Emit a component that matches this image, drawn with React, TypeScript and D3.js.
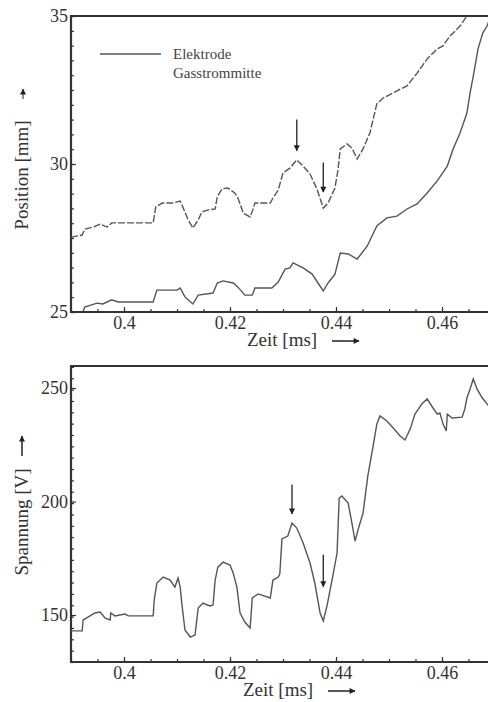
import React, { useEffect, useRef } from 'react'
import * as d3 from 'd3'

// Gasstrommitte (upper, dashed)
const gasTime = [0.39, 0.3921, 0.3926, 0.3942, 0.3955, 0.3968, 0.3977, 0.4055, 0.406, 0.4072, 0.4092, 0.4106, 0.4111, 0.4121, 0.413, 0.414, 0.4147, 0.4159, 0.4172, 0.4176, 0.4185, 0.4196, 0.4209, 0.4215, 0.4225, 0.4238, 0.4243, 0.4247, 0.4276, 0.4281, 0.4291, 0.43, 0.4313, 0.4326, 0.4338, 0.4351, 0.4364, 0.4376, 0.4385, 0.4398, 0.4404, 0.4408, 0.4421, 0.443, 0.444, 0.4451, 0.4464, 0.4477, 0.4489, 0.4515, 0.4534, 0.4553, 0.4572, 0.4591, 0.4602, 0.4615, 0.4634, 0.4647, 0.4662]
const gasPos = [27.53, 27.6, 27.8, 27.87, 27.97, 27.87, 28.01, 28.01, 28.55, 28.68, 28.68, 28.75, 28.55, 28.11, 27.84, 28.11, 28.38, 28.45, 28.48, 28.89, 29.16, 29.19, 29.02, 28.85, 28.34, 28.21, 28.45, 28.68, 28.68, 28.85, 29.12, 29.7, 29.86, 30.14, 29.93, 29.66, 29.16, 28.51, 28.68, 29.19, 29.83, 30.51, 30.68, 30.54, 30.17, 30.51, 31.05, 32.03, 32.23, 32.47, 32.64, 33.07, 33.55, 33.89, 33.99, 34.32, 34.66, 35.0, 35.37]

// Elektrode (lower)
const elekTime = [0.3923, 0.3926, 0.3949, 0.396, 0.3977, 0.3989, 0.4055, 0.4062, 0.41, 0.4106, 0.4115, 0.413, 0.414, 0.4168, 0.4176, 0.4187, 0.4206, 0.4215, 0.4228, 0.4242, 0.4247, 0.4279, 0.4291, 0.4304, 0.4313, 0.4319, 0.4338, 0.4355, 0.4366, 0.4376, 0.4385, 0.4398, 0.4408, 0.4423, 0.444, 0.4459, 0.4477, 0.4496, 0.4515, 0.4534, 0.4553, 0.4572, 0.4591, 0.461, 0.4621, 0.4634, 0.4647, 0.4653, 0.4659, 0.4668, 0.4677, 0.4685, 0.4694]
const elekPos = [25.03, 25.17, 25.3, 25.27, 25.41, 25.34, 25.34, 25.74, 25.74, 25.81, 25.51, 25.27, 25.57, 25.64, 25.98, 26.05, 25.98, 25.84, 25.57, 25.57, 25.81, 25.81, 26.01, 26.45, 26.49, 26.66, 26.49, 26.28, 25.98, 25.71, 25.98, 26.28, 26.99, 26.96, 26.79, 27.23, 27.91, 28.18, 28.24, 28.48, 28.65, 29.02, 29.43, 29.93, 30.51, 31.05, 31.72, 32.4, 32.97, 33.89, 34.43, 34.66, 35.1]

// Spannung
const voltTime = [0.39, 0.3921, 0.3923, 0.3932, 0.3945, 0.3955, 0.3964, 0.3974, 0.3975, 0.3983, 0.4002, 0.4008, 0.4055, 0.4057, 0.4062, 0.4074, 0.4087, 0.4096, 0.4102, 0.4106, 0.4109, 0.4115, 0.4125, 0.4134, 0.414, 0.4149, 0.4162, 0.4168, 0.4172, 0.4177, 0.4187, 0.42, 0.4206, 0.4213, 0.4219, 0.4228, 0.4238, 0.4242, 0.4253, 0.4276, 0.4281, 0.4291, 0.4294, 0.4298, 0.4309, 0.4317, 0.4326, 0.4338, 0.4351, 0.436, 0.437, 0.4376, 0.4383, 0.4393, 0.4402, 0.4404, 0.4406, 0.4411, 0.4423, 0.443, 0.4436, 0.4442, 0.4451, 0.446, 0.447, 0.4477, 0.4483, 0.4496, 0.4508, 0.4521, 0.453, 0.454, 0.4549, 0.4562, 0.4572, 0.4583, 0.4591, 0.4596, 0.4602, 0.4608, 0.461, 0.4619, 0.4638, 0.4643, 0.4647, 0.4653, 0.4659, 0.4666, 0.4676, 0.4685, 0.4694]
const volt = [143.0, 143.0, 147.8, 149.1, 150.9, 151.3, 148.7, 147.8, 150.9, 149.6, 150.4, 149.6, 149.6, 156.6, 164.1, 166.7, 165.4, 162.3, 166.3, 162.3, 155.3, 143.4, 140.3, 141.2, 153.1, 155.3, 154.0, 154.4, 165.4, 171.1, 173.3, 172.0, 168.5, 162.3, 150.9, 146.9, 144.3, 157.5, 159.3, 157.5, 165.4, 166.7, 168.1, 183.5, 184.8, 190.5, 188.3, 181.7, 172.9, 164.1, 150.9, 147.4, 154.0, 165.9, 177.3, 189.2, 201.5, 202.4, 199.3, 190.5, 182.6, 187.9, 194.9, 211.2, 224.4, 234.1, 237.7, 235.5, 232.4, 228.9, 227.1, 231.9, 238.5, 243.0, 245.2, 241.2, 238.5, 239.0, 234.1, 231.1, 238.5, 236.8, 237.2, 240.7, 245.6, 249.6, 254.0, 249.6, 245.6, 243.0, 240.3]

const xTicks = [0.4, 0.42, 0.44, 0.46]
const posTicks = [25, 30, 35]
const voltTicks = [150, 200, 250]
const legendLabels = ['Elektrode', 'Gasstrommitte']

// arrows: [time, from, to]
const posArrows = [[0.4326, 31.5, 30.45], [0.4376, 30.05, 29.05]]
const voltArrows = [[0.4317, 207.5, 194.5], [0.4376, 176.5, 162.5]]

const W = 488
const H = 702
const FONT = '"Liberation Serif", "Times New Roman", serif'
const INK = '#333'
const LINE = '#555'

export default function App() {
  const ref = useRef<SVGSVGElement>(null)

  useEffect(() => {
    const svg = d3.select(ref.current)
    svg.selectAll('*').remove()

    const defs = svg.append('defs')
    defs.append('marker')
      .attr('id', 'head')
      .attr('viewBox', '0 0 10 10')
      .attr('refX', 9).attr('refY', 5)
      .attr('markerWidth', 8).attr('markerHeight', 6)
      .attr('markerUnits', 'userSpaceOnUse')
      .attr('orient', 'auto')
      .append('path').attr('d', 'M0,0L10,5L0,10Z').attr('fill', '#222')

    const left = 71
    const x = d3.scaleLinear().domain([0.39, 0.47]).range([left, left + 8 * 53])

    function panel(id, top, bottom, domain, majors, minorStep, series, arrows) {
      const y = d3.scaleLinear().domain(domain).range([bottom, top])
      const g = svg.append('g')

      defs.append('clipPath').attr('id', id)
        .append('rect').attr('x', left).attr('y', top).attr('width', W - left).attr('height', bottom - top)

      // minor ticks
      const yMinor = d3.range(domain[0], domain[1] + 1e-9, minorStep)
      g.append('g').attr('transform', `translate(${left},0)`)
        .call(d3.axisLeft(y).tickValues(yMinor).tickSize(-3).tickFormat(() => ''))
        .call(a => a.select('.domain').remove())
      g.append('g').attr('transform', `translate(${left},0)`)
        .call(d3.axisLeft(y).tickValues(majors).tickSize(-5).tickPadding(3).tickFormat(d3.format('d')))
        .call(a => a.select('.domain').remove())
        .call(a => a.selectAll('text').attr('font-family', FONT).attr('font-size', 18).attr('fill', INK))

      const xMinor = d3.range(0.39, 0.4701, 0.005)
      g.append('g').attr('transform', `translate(0,${bottom})`)
        .call(d3.axisBottom(x).tickValues(xMinor).tickSize(-3).tickFormat(() => ''))
        .call(a => a.select('.domain').remove())
      g.append('g').attr('transform', `translate(0,${bottom})`)
        .call(d3.axisBottom(x).tickValues(xTicks).tickSize(-5).tickPadding(4).tickFormat(d => String(d)))
        .call(a => a.select('.domain').remove())
        .call(a => a.selectAll('text').attr('font-family', FONT).attr('font-size', 18).attr('fill', INK))
      g.selectAll('.tick line').attr('stroke', INK).attr('stroke-width', 1.2)

      // frame
      g.append('path')
        .attr('d', `M${W},${top}H${left}V${bottom}H${W}`)
        .attr('fill', 'none').attr('stroke', INK).attr('stroke-width', 2.2)

      const line = d3.line().x(d => x(d[0])).y(d => y(d[1])).curve(d3.curveLinear)
      series.forEach(s => {
        g.append('path')
          .datum(d3.zip(s.t, s.v))
          .attr('clip-path', `url(#${id})`)
          .attr('fill', 'none')
          .attr('stroke', LINE)
          .attr('stroke-width', 1.4)
          .attr('stroke-dasharray', s.dash)
          .attr('d', line)
      })

      g.selectAll('.arrow')
        .data(arrows)
        .join('line')
        .attr('x1', d => x(d[0])).attr('x2', d => x(d[0]))
        .attr('y1', d => y(d[1])).attr('y2', d => y(d[2]))
        .attr('stroke', '#222').attr('stroke-width', 1.3)
        .attr('marker-end', 'url(#head)')
      return y
    }

    panel('clipTop', 16, 312, [25, 35], posTicks, 0.5, [
      { t: elekTime, v: elekPos, dash: null },
      { t: gasTime, v: gasPos, dash: '7,2' }
    ], posArrows)

    panel('clipBottom', 366, 662, [129.3, 259.7], voltTicks, 5, [
      { t: voltTime, v: volt, dash: null }
    ], voltArrows)

    // legend
    const lg = svg.append('g').attr('font-family', FONT).attr('font-size', 15).attr('fill', '#444')
    lg.append('line').attr('x1', 100).attr('x2', 161).attr('y1', 54).attr('y2', 54)
      .attr('stroke', LINE).attr('stroke-width', 1.3)
    lg.selectAll('text').data(legendLabels).join('text')
      .attr('x', 173).attr('y', (d, i) => 59 + i * 19)
      .text(d => d)

    // axis titles
    const xTitle = (yy, cx) => {
      svg.append('text').attr('x', cx).attr('y', yy)
        .attr('font-family', FONT).attr('font-size', 19).attr('fill', INK)
        .text('Zeit [ms]')
      svg.append('line').attr('x1', cx + 85).attr('x2', cx + 112).attr('y1', yy - 5).attr('y2', yy - 5)
        .attr('stroke', '#222').attr('stroke-width', 1.5).attr('marker-end', 'url(#head)')
    }
    xTitle(346, 247)
    xTitle(696, 243)

    svg.append('text')
      .attr('transform', 'translate(28,175) rotate(-90)')
      .attr('text-anchor', 'middle')
      .attr('font-family', FONT).attr('font-size', 19).attr('fill', INK)
      .text('Position [mm]')
    svg.append('line').attr('x1', 23).attr('x2', 23).attr('y1', 99).attr('y2', 89)
      .attr('stroke', '#222').attr('stroke-width', 1).attr('marker-end', 'url(#head)')

    svg.append('text')
      .attr('transform', 'translate(28,522) rotate(-90)')
      .attr('text-anchor', 'middle')
      .attr('font-family', FONT).attr('font-size', 19).attr('fill', INK)
      .text('Spannung [V]')
    svg.append('line').attr('x1', 22).attr('x2', 22).attr('y1', 456).attr('y2', 436)
      .attr('stroke', '#222').attr('stroke-width', 1.5).attr('marker-end', 'url(#head)')
  }, [])

  return (
    <svg ref={ref} width={W} height={H}
      style={{ position: 'absolute', left: 0, top: 0, background: '#fff' }} />
  )
}
